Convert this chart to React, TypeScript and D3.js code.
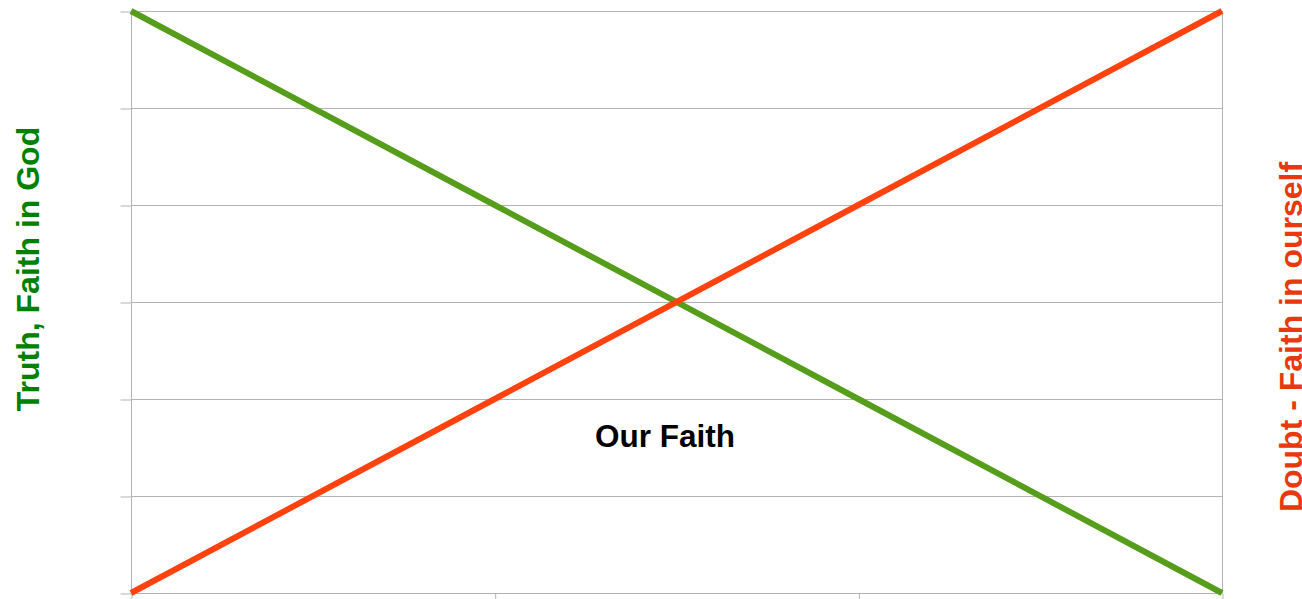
import React, { useEffect, useRef } from "react";
import * as d3 from "d3";

// categories along x (no labels shown in the chart)
const categories = [1, 2, 3, 4];
// series values
const truthValues = [6, 4, 2, 0];
const doubtValues = [0, 2, 4, 6];
const yTicks = [0, 1, 2, 3, 4, 5, 6];

const leftTitle = "Truth, Faith in God";
const rightTitle = "Doubt - Faith in ourself";
const centerLabel = "Our Faith";

const App = (): JSX.Element => {
    const ref = useRef<SVGSVGElement>(null);
    const width = 1302;
    const height = 599;
    const margin = { top: 11, right: 80, bottom: 6, left: 131 };

    useEffect(() => {
        if (!ref.current) return;
        const svg = d3.select(ref.current);
        svg.selectAll("*").remove();

        const plotRight = width - margin.right;
        const plotBottom = height - margin.bottom;

        const x = d3
            .scaleLinear()
            .domain([0, categories.length - 1])
            .range([margin.left, plotRight]);
        const y = d3.scaleLinear().domain([0, 6]).range([plotBottom, margin.top]);

        const grid = "#b3b3b3";

        // horizontal gridlines
        svg.append("g")
            .selectAll("line")
            .data(yTicks)
            .join("line")
            .attr("x1", margin.left)
            .attr("x2", plotRight + 0.5)
            .attr("y1", (d) => Math.round(y(d)) + 0.5)
            .attr("y2", (d) => Math.round(y(d)) + 0.5)
            .attr("stroke", grid)
            .attr("stroke-width", 1);

        // y axis (ticks only)
        const yAxis = (g: any) =>
            g
                .attr("transform", `translate(${margin.left + 0.5},0.5)`)
                .call(d3.axisLeft(y).tickValues(yTicks).tickSize(11).tickFormat(() => ""))
                .call((g: any) => g.selectAll("line").attr("stroke", grid))
                .call((g: any) => g.select(".domain").attr("stroke", grid).attr("d", `M0,${y(0)}V${y(6)}`));
        svg.append("g").call(yAxis);

        // x axis (ticks only)
        const xAxis = (g: any) =>
            g
                .attr("transform", `translate(0.5,${plotBottom + 0.5})`)
                .call(
                    d3
                        .axisBottom(x)
                        .tickValues(categories.map((_, i) => i))
                        .tickSize(6)
                        .tickFormat(() => ""),
                )
                .call((g: any) => g.selectAll("line").attr("stroke", grid))
                .call((g: any) => g.select(".domain").remove());
        svg.append("g").call(xAxis);

        // right border
        svg.append("line")
            .attr("x1", Math.round(plotRight) + 0.5)
            .attr("x2", Math.round(plotRight) + 0.5)
            .attr("y1", margin.top)
            .attr("y2", plotBottom)
            .attr("stroke", grid);

        const line = d3
            .line<number>()
            .x((d, i) => x(i))
            .y((d) => y(d));

        svg.append("path")
            .datum(truthValues)
            .attr("fill", "none")
            .attr("stroke", "#579d1c")
            .attr("stroke-width", 6)
            .attr("d", line);

        svg.append("path")
            .datum(doubtValues)
            .attr("fill", "none")
            .attr("stroke", "#ff420e")
            .attr("stroke-width", 6)
            .attr("d", line);

        const font = "'Liberation Sans', Arial, sans-serif";

        svg.append("text")
            .attr("transform", "translate(39,269) rotate(-90)")
            .attr("text-anchor", "middle")
            .attr("font-family", font)
            .attr("font-weight", "bold")
            .attr("font-size", 32)
            .attr("fill", "#008000")
            .text(leftTitle);

        svg.append("text")
            .attr("transform", "translate(1302,337) rotate(-90)")
            .attr("text-anchor", "middle")
            .attr("font-family", font)
            .attr("font-weight", "bold")
            .attr("font-size", 32)
            .attr("fill", "#e8380d")
            .text(rightTitle);

        svg.append("text")
            .attr("x", 665)
            .attr("y", 447)
            .attr("text-anchor", "middle")
            .attr("font-family", font)
            .attr("font-weight", "bold")
            .attr("font-size", 31.5)
            .attr("fill", "#000")
            .text(centerLabel);
    }, []);

    return (
        <svg
            ref={ref}
            width={width}
            height={height}
            viewBox={`0 0 ${width} ${height}`}
            style={{ position: "absolute", left: 0, top: 0, background: "#fff" }}
        />
    );
};

export default App;
